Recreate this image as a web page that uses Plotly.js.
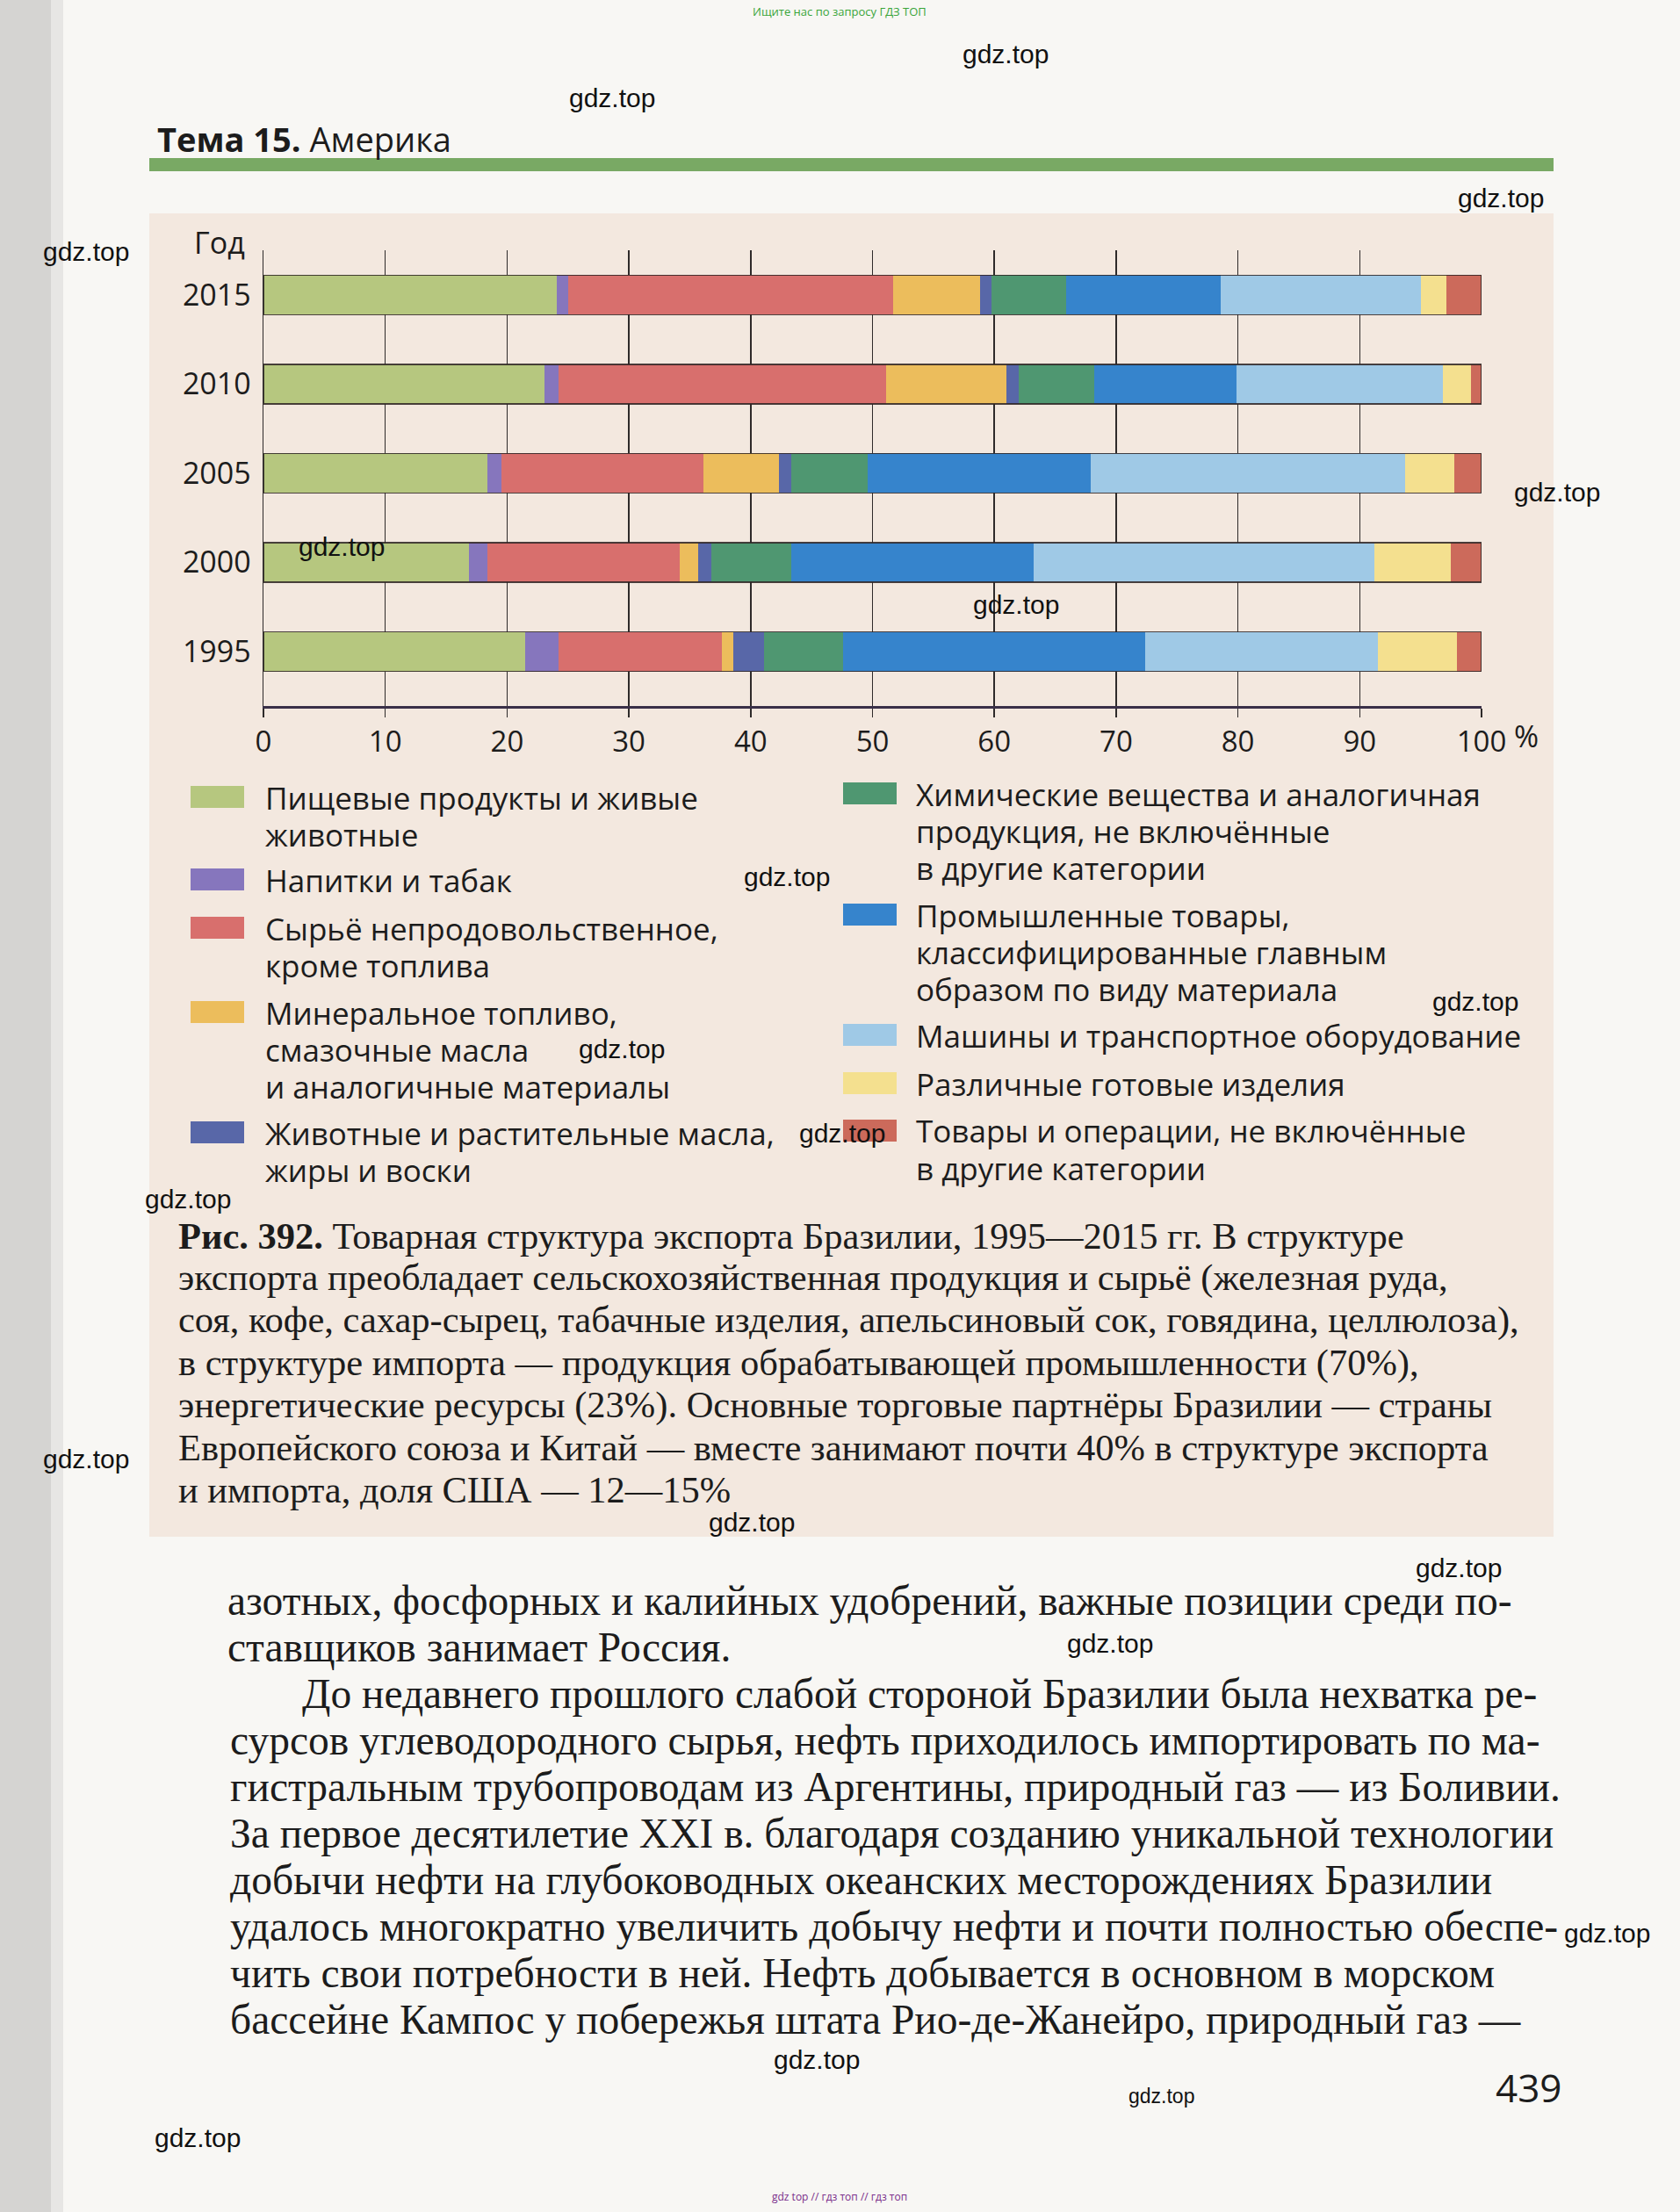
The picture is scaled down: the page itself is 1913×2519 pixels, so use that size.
<!DOCTYPE html>
<html>
<head>
<meta charset="utf-8">
<script src="https://cdn.plot.ly/plotly-3.0.1.min.js"></script>
<style>html,body{margin:0;padding:0;background:#f7f6f3;}#chart{width:1913px;height:2519px;}</style>
</head>
<body>
<div id="chart"></div>
<script>
// ---- data (percent of exports) ----
const years = ['1995', '2000', '2005', '2010', '2015'];
const food = [21.5, 16.9, 18.4, 23.1, 24.1];
const beverages = [2.75, 1.5, 1.15, 1.15, 0.9];
const crude = [13.4, 15.8, 16.55, 26.85, 26.7];
const fuel = [0.95, 1.5, 6.2, 9.9, 7.1];
const oils = [2.5, 1.05, 1.0, 1.0, 1.0];
const chemicals = [6.5, 6.55, 6.3, 6.2, 6.1];
const manufactured = [24.8, 19.9, 18.3, 11.7, 12.7];
const machinery = [19.1, 28.0, 25.85, 16.9, 16.4];
const misc = [6.5, 6.3, 4.05, 2.3, 2.1];
const other = [2.0, 2.5, 2.2, 0.9, 2.9];
const tickValues = [0, 10, 20, 30, 40, 50, 60, 70, 80, 90, 100];
const tickLabels = ['0', '10', '20', '30', '40', '50', '60', '70', '80', '90', '100'];

const seriesNames = [
  'Пищевые продукты и живые животные',
  'Напитки и табак',
  'Сырьё непродовольственное, кроме топлива',
  'Минеральное топливо, смазочные масла и аналогичные материалы',
  'Животные и растительные масла, жиры и воски',
  'Химические вещества и аналогичная продукция, не включённые в другие категории',
  'Промышленные товары, классифицированные главным образом по виду материала',
  'Машины и транспортное оборудование',
  'Различные готовые изделия',
  'Товары и операции, не включённые в другие категории'
];
const legendLines = [
  ['Пищевые продукты и живые', 'животные'],
  ['Напитки и табак'],
  ['Сырьё непродовольственное,', 'кроме топлива'],
  ['Минеральное топливо,', 'смазочные масла', 'и аналогичные материалы'],
  ['Животные и растительные масла,', 'жиры и воски'],
  ['Химические вещества и аналогичная', 'продукция, не включённые', 'в другие категории'],
  ['Промышленные товары,', 'классифицированные главным', 'образом по виду материала'],
  ['Машины и транспортное оборудование'],
  ['Различные готовые изделия'],
  ['Товары и операции, не включённые', 'в другие категории']
];
const seriesValues = [food, beverages, crude, fuel, oils, chemicals, manufactured, machinery, misc, other];

// ---- styles ----
const colors = ['#b6c77f', '#8676bd', '#d86f6d', '#ecbd5c', '#5867a8', '#4f9771', '#3684cc', '#9fc9e6', '#f4e08f', '#cc6a5b'];
const W = 1913, H = 2519;
const PX = x => x / W;
const PY = y => 1 - y / H;
const SANS = 'Open Sans, DejaVu Sans, sans-serif';
const SERIF = 'Liberation Serif, DejaVu Serif, serif';

const traces = seriesValues.map((vals, i) => ({
  type: 'bar', orientation: 'h', name: seriesNames[i],
  y: years, x: vals,
  marker: {color: colors[i], line: {width: 0}},
  hoverinfo: 'name+x', showlegend: false
}));
// outline of each full bar (total of all segments), drawn on an overlaid axis
const totals = years.map((_, k) => seriesValues.reduce((s, arr) => s + arr[k], 0));
traces.push({
  type: 'bar', orientation: 'h', y: years, x: totals, xaxis: 'x2', yaxis: 'y',
  marker: {color: 'rgba(0,0,0,0)', line: {color: 'rgba(45,35,35,0.85)', width: 1.5}},
  hoverinfo: 'skip', showlegend: false
});

const annotations = [];
const shapes = [];
function txt(x, y, s, size, extra) {
  annotations.push(Object.assign({
    xref: 'paper', yref: 'paper', x: PX(x), y: PY(y), text: s, showarrow: false,
    xanchor: 'left', yanchor: 'middle',
    font: {family: SANS, size: size, color: '#1c1c1c'}
  }, extra || {}));
}
function rect(x0, y0, x1, y1, color, layer) {
  shapes.push({type: 'rect', xref: 'paper', yref: 'paper', x0: PX(x0), x1: PX(x1), y0: PY(y1), y1: PY(y0),
    fillcolor: color, line: {width: 0}, layer: layer || 'below'});
}

// page background pieces
rect(0, 0, 58, H, '#d5d4d2');
rect(58, 0, 72, H, '#e7e6e4');
rect(170, 243, 1769, 1750, '#f3e8df');
rect(170, 180, 1769, 195, '#79a964');

// header
txt(177, 158, '<b>Тема 15.</b> Америка', 38);
txt(956, 13, 'Ищите нас по запросу ГДЗ ТОП', 13, {xanchor: 'center', font: {family: SANS, size: 13, color: '#3aa53a'}});

// chart labels
txt(250, 276, 'Год', 34, {xanchor: 'center'});
txt(1722, 838, '%', 34);

// legend (two columns)
const legendPos = [
  [217, 908], [217, 1002], [217, 1057], [217, 1153], [217, 1290],
  [960, 904], [960, 1042], [960, 1179], [960, 1234], [960, 1288]
];
legendLines.forEach((lines, i) => {
  const [sx, sy] = legendPos[i];
  rect(sx, sy - 13, sx + 61, sy + 12, colors[i], 'above');
  lines.forEach((ln, j) => txt(sx + (i < 5 ? 83 : 81), sy + j * 42, ln, 35));
});

// caption
const caption = [
  '<b>Рис. 392.</b> Товарная структура экспорта Бразилии, 1995—2015 гг. В структуре',
  'экспорта преобладает сельскохозяйственная продукция и сырьё (железная руда,',
  'соя, кофе, сахар-сырец, табачные изделия, апельсиновый сок, говядина, целлюлоза),',
  'в структуре импорта — продукция обрабатывающей промышленности (70%),',
  'энергетические ресурсы (23%). Основные торговые партнёры Бразилии — страны',
  'Европейского союза и Китай — вместе занимают почти 40% в структуре экспорта',
  'и импорта, доля США — 12—15%'
];
caption.forEach((ln, j) => txt(201, 1407 + j * 48.2, ln, 42.5, {font: {family: SERIF, size: 42.5, color: '#1c1c1c'}}));

// body text
const body = [
  [257, 'азотных, фосфорных и калийных удобрений, важные позиции среди по-'],
  [257, 'ставщиков занимает Россия.'],
  [342, 'До недавнего прошлого слабой стороной Бразилии была нехватка ре-'],
  [260, 'сурсов углеводородного сырья, нефть приходилось импортировать по ма-'],
  [260, 'гистральным трубопроводам из Аргентины, природный газ — из Боливии.'],
  [260, 'За первое десятилетие XXI в. благодаря созданию уникальной технологии'],
  [260, 'добычи нефти на глубоководных океанских месторождениях Бразилии'],
  [260, 'удалось многократно увеличить добычу нефти и почти полностью обеспе-'],
  [260, 'чить свои потребности в ней. Нефть добывается в основном в морском'],
  [260, 'бассейне Кампос у побережья штата Рио-де-Жанейро, природный газ —']
];
body.forEach(([x, ln], j) => txt(x, 1823 + j * 53, ln, 47.5, {font: {family: SERIF, size: 47.5, color: '#1c1c1c'}}));

txt(1740, 2377, '439', 44, {xanchor: 'center'});

// watermarks
const marks = [
  [1145, 61], [697, 112], [1709, 225], [98, 286], [1773, 561], [389, 622], [1157, 689],
  [896, 998], [1680, 1140], [708, 1194], [959, 1290], [214, 1365], [98, 1661], [856, 1733],
  [1661, 1785], [1264, 1871], [1830, 2201], [930, 2345], [225, 2434]
];
marks.forEach(([x, y]) => txt(x, y, 'gdz.top', 30, {xanchor: 'center', font: {family: 'Liberation Sans, Arial, sans-serif', size: 30, color: '#111'}}));
txt(1322, 2387, 'gdz.top', 23, {xanchor: 'center', font: {family: 'Liberation Sans, Arial, sans-serif', size: 23, color: '#111'}});
txt(956, 2501, 'gdz top // гдз топ // гдз топ', 12, {xanchor: 'center', font: {family: SANS, size: 12, color: '#7a2e8a'}});

const xDomain = [PX(300), PX(1687)];
const layout = {
  width: W, height: H,
  margin: {l: 0, r: 0, t: 0, b: 0},
  paper_bgcolor: '#f8f7f4', plot_bgcolor: 'rgba(0,0,0,0)',
  barmode: 'stack', bargap: 0.557,
  showlegend: false,
  xaxis: {
    domain: xDomain, range: [0, 100], tickvals: tickValues, ticktext: tickLabels,
    showgrid: true, gridcolor: '#2e2a2a', gridwidth: 1.5, zeroline: false,
    showline: true, linecolor: '#3a3048', linewidth: 2.5,
    ticks: 'outside', ticklen: 10, tickcolor: '#2e2a2a', tickwidth: 1.5,
    tickfont: {family: SANS, size: 33, color: '#1c1c1c'}, fixedrange: true
  },
  xaxis2: {overlaying: 'x', range: [0, 100], visible: false, domain: xDomain},
  yaxis: {
    domain: [PY(804), PY(285)], type: 'category', categoryorder: 'array', categoryarray: years,
    range: [-0.61, 4.5], showgrid: false, zeroline: false,
    showline: true, linecolor: '#2e2a2a', linewidth: 1.5,
    ticks: '', ticklabelstandoff: 6,
    tickfont: {family: SANS, size: 34, color: '#1c1c1c'}, fixedrange: true
  },
  shapes: shapes,
  annotations: annotations
};

Plotly.newPlot('chart', traces, layout, {displayModeBar: false, staticPlot: true});
</script>
</body>
</html>
